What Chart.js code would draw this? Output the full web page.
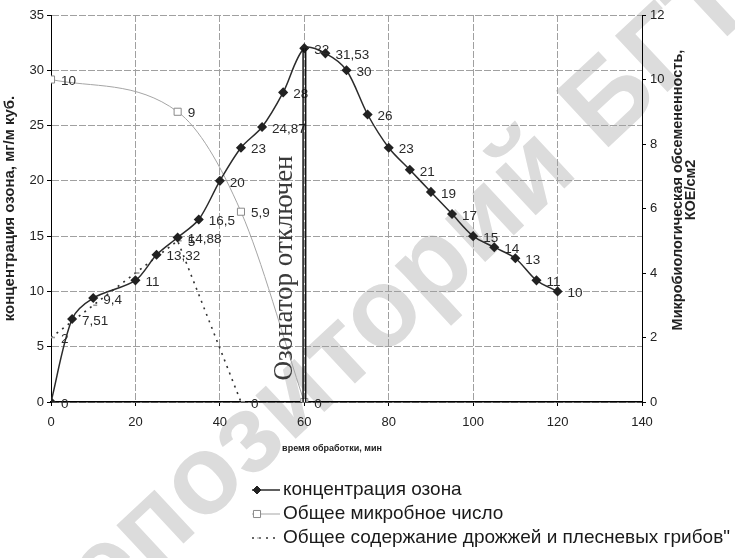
<!DOCTYPE html>
<html lang="ru">
<head>
<meta charset="utf-8">
<title>Концентрация озона и микробиологическая обсемененность</title>
<script src="https://cdn.jsdelivr.net/npm/chart.js@4"></script>
<style>
  html, body { margin: 0; padding: 0; background: #fff; }
  #wrap { width: 735px; height: 558px; }
</style>
</head>
<body>
<div id="wrap"><canvas id="chart" width="735" height="558"></canvas></div>
<script>
// время обработки, мин / концентрация озона, мг/м куб.
const ozoneTime = [0, 5, 10, 20, 25, 30, 35, 40, 45, 50, 55, 60, 65, 70, 75, 80, 85, 90, 95, 100, 105, 110, 115, 120];
const ozoneValues = [0, 7.51, 9.4, 11, 13.32, 14.88, 16.5, 20, 23, 24.87, 28, 32, 31.53, 30, 26, 23, 21, 19, 17, 15, 14, 13, 11, 10];

// общее микробное число, КОЕ/см2 (правая ось)
const microbeTime = [0, 30, 45, 60];
const microbeValues = [10, 9, 5.9, 0];

// дрожжи и плесневые грибы, КОЕ/см2 (правая ось)
const yeastTime = [0, 10, 20, 30, 45];
const yeastValues = [2, 3, 4, 5, 0];
const yeastLabels = ['2', '', '', '5', '0']; // подписи 3 и 4 на оригинале перекрыты

const seriesNames = [
  'концентрация озона',
  'Общее микробное число',
  'Общее содержание дрожжей и плесневых грибов"'
];

// оси
const xMin = 0, xMax = 140, xStep = 20;
const yLeftMin = 0, yLeftMax = 35, yLeftStep = 5;
const yRightMin = 0, yRightMax = 12, yRightStep = 2;

const xTitle = 'время обработки, мин';
const yLeftTitle = 'концентрация озона, мг/м куб.';
const yRightTitle = ['Микробиологическая обсемененность,', 'КОЕ/см2'];

// момент отключения озонатора
const ozoneOffTime = 60;
const ozoneOffText = 'Озонатор отключен';

const watermark = 'Репозиторий БГТУ';

const sans = '"Liberation Sans", Arial, sans-serif';

function toPoints(xs, ys) {
  return xs.map((x, i) => ({ x: x, y: ys[i] }));
}

// число с запятой, как в оригинале
function fmt(v) {
  return String(v).replace('.', ',');
}

/**
 * Водяной знак под графиком
 */
const watermarkPlugin = {
  id: 'watermark',
  beforeDraw(chart) {
    const ctx = chart.ctx;
    ctx.save();
    ctx.translate(410, 290);
    ctx.rotate(-43 * Math.PI / 180);
    ctx.font = 'bold 112px ' + sans;
    ctx.fillStyle = '#dcdcdc';
    ctx.textAlign = 'center';
    ctx.textBaseline = 'middle';
    ctx.fillText(watermark, 0, 0);
    ctx.restore();
  }
};

/**
 * Подписи значений справа от точек
 */
const valueLabels = {
  id: 'valueLabels',
  afterDatasetsDraw(chart) {
    const ctx = chart.ctx;
    ctx.save();
    ctx.font = '13.5px ' + sans;
    ctx.fillStyle = '#2a2a2a';
    ctx.textAlign = 'left';
    ctx.textBaseline = 'middle';
    chart.data.datasets.forEach((ds, i) => {
      const meta = chart.getDatasetMeta(i);
      meta.data.forEach((pt, j) => {
        const txt = ds.valueLabels[j];
        if (!txt) return;
        ctx.fillText(txt, pt.x + 10, pt.y + 2);
      });
    });
    ctx.restore();
  }
};

/**
 * Линия отключения озонатора, подписи осей и легенда
 */
const decorations = {
  id: 'decorations',
  afterDatasetsDraw(chart) {
    const ctx = chart.ctx;
    const x = chart.scales.x;
    const y = chart.scales.y;
    const area = chart.chartArea;

    // двойная вертикальная линия
    const px = x.getPixelForValue(ozoneOffTime);
    const peak = ozoneValues[ozoneTime.indexOf(ozoneOffTime)];
    ctx.save();
    ctx.strokeStyle = '#111';
    ctx.lineWidth = 1.5;
    [-1.2, 1.4].forEach(d => {
      ctx.beginPath();
      ctx.moveTo(px + d, y.getPixelForValue(peak));
      ctx.lineTo(px + d, area.bottom);
      ctx.stroke();
    });

    // надпись вдоль линии
    ctx.translate(px - 19, 268);
    ctx.rotate(-Math.PI / 2);
    ctx.font = '27px "Liberation Serif", "Times New Roman", serif';
    ctx.fillStyle = '#3a3a3a';
    ctx.textAlign = 'center';
    ctx.textBaseline = 'middle';
    ctx.fillText(ozoneOffText, 0, 0);
    ctx.restore();
  },
  afterDraw(chart) {
    const ctx = chart.ctx;
    const area = chart.chartArea;
    ctx.save();
    ctx.fillStyle = '#222';

    // подпись оси X
    ctx.font = 'bold 9px ' + sans;
    ctx.textAlign = 'center';
    ctx.textBaseline = 'middle';
    ctx.fillText(xTitle, 332, area.bottom + 47);

    // подпись правой оси (снизу вверх)
    ctx.save();
    ctx.translate(678, 190);
    ctx.rotate(-Math.PI / 2);
    ctx.font = 'bold 14.5px ' + sans;
    yRightTitle.forEach((line, i) => ctx.fillText(line, 0, i * 13));
    ctx.restore();

    // легенда
    const rows = [490, 514, 538];
    chart.data.datasets.forEach((ds, i) => {
      const ly = rows[i];
      ctx.save();
      ctx.strokeStyle = ds.borderColor;
      ctx.lineWidth = ds.borderWidth;
      ctx.setLineDash(ds.borderDash || []);
      ctx.beginPath();
      ctx.moveTo(252, ly);
      ctx.lineTo(280, ly);
      ctx.stroke();
      ctx.restore();
      ctx.save();
      ctx.fillStyle = ds.pointBackgroundColor;
      ctx.strokeStyle = ds.pointBorderColor;
      Chart.helpers.drawPoint(ctx, {
        pointStyle: ds.pointStyle,
        radius: ds.pointRadius,
        borderWidth: 1
      }, 257, ly);
      ctx.restore();
      ctx.fillStyle = '#1a1a1a';
      ctx.font = '19px ' + sans;
      ctx.textAlign = 'left';
      ctx.textBaseline = 'middle';
      ctx.fillText(seriesNames[i], 283, ly);
    });
    ctx.restore();
  }
};

const gridColor = '#a0a0a0';
const gridDash = [7, 2];
const tickFont = { family: sans, size: 13 };

new Chart(document.getElementById('chart'), {
  type: 'line',
  data: {
    datasets: [
      {
        label: seriesNames[0],
        data: toPoints(ozoneTime, ozoneValues),
        valueLabels: ozoneValues.map(fmt),
        yAxisID: 'y',
        borderColor: '#2b2b2b',
        borderWidth: 1.5,
        pointStyle: 'rectRot',
        pointRadius: 4,
        pointBackgroundColor: '#222',
        pointBorderColor: '#222',
        tension: 0.3
      },
      {
        label: seriesNames[1],
        data: toPoints(microbeTime, microbeValues),
        valueLabels: microbeValues.map(fmt),
        yAxisID: 'y2',
        borderColor: '#a5a5a5',
        borderWidth: 1,
        pointStyle: 'rect',
        pointRadius: 5,
        pointBackgroundColor: '#fff',
        pointBorderColor: '#8a8a8a',
        cubicInterpolationMode: 'monotone'
      },
      {
        label: seriesNames[2],
        data: toPoints(yeastTime, yeastValues),
        valueLabels: yeastLabels,
        yAxisID: 'y2',
        borderColor: '#333',
        borderWidth: 1.6,
        borderDash: [2, 5],
        pointStyle: 'dash',
        pointRadius: 4,
        pointBackgroundColor: '#999',
        pointBorderColor: '#999',
        tension: 0
      }
    ]
  },
  options: {
    responsive: false,
    animation: false,
    layout: { padding: { top: 15, left: 0, right: 0, bottom: 126 } },
    plugins: {
      legend: { display: false },
      tooltip: { enabled: false }
    },
    scales: {
      x: {
        type: 'linear',
        min: xMin,
        max: xMax,
        ticks: { stepSize: xStep, font: tickFont, color: '#222', padding: 9 },
        grid: { color: gridColor, tickColor: '#000', tickLength: 4 },
        border: { color: '#000', width: 1.5, dash: gridDash },
        afterFit(scale) { scale.height = 30; }
      },
      y: {
        position: 'left',
        min: yLeftMin,
        max: yLeftMax,
        ticks: { stepSize: yLeftStep, font: tickFont, color: '#222', padding: 3 },
        grid: { color: gridColor, tickColor: '#000', tickLength: 4 },
        border: { color: '#000', width: 1, dash: gridDash },
        title: {
          display: true,
          text: yLeftTitle,
          color: '#222',
          font: { family: sans, size: 15, weight: 'bold' },
          padding: { top: 1, bottom: 1 }
        },
        afterFit(scale) { scale.width = 51; }
      },
      y2: {
        position: 'right',
        min: yRightMin,
        max: yRightMax,
        ticks: { stepSize: yRightStep, font: tickFont, color: '#222', padding: 4 },
        grid: { drawOnChartArea: false, tickColor: '#000', tickLength: 4 },
        border: { color: '#000', width: 1 },
        afterFit(scale) { scale.width = 93; }
      }
    }
  },
  plugins: [watermarkPlugin, valueLabels, decorations]
});
</script>
</body>
</html>
